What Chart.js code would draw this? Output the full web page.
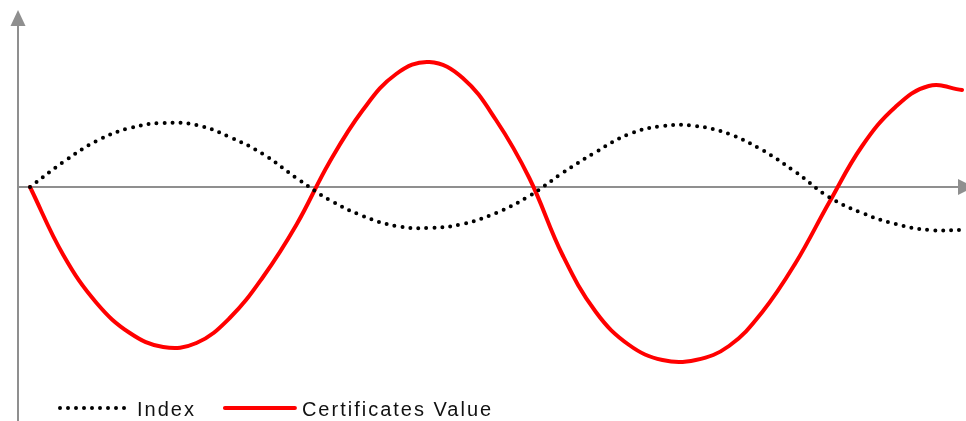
<!DOCTYPE html>
<html>
<head>
<meta charset="utf-8">
<script src="https://cdn.jsdelivr.net/npm/chart.js@4.4.1/dist/chart.umd.min.js"></script>
<style>
  body { margin: 0; background: #fff; }
  canvas { display: block; }
</style>
</head>
<body>
<canvas id="chart" width="966" height="421"></canvas>
<script>
// ==================== DATA ====================
const periods = ['', '', '', '', '', '', '', '', '', '', '', '', '', '', '',
                 '', '', '', '', '', '', '', '', '', '', '', '', '', ''];

const indexValues = [0, 25, 46, 59, 64, 62, 50, 33, 9, -13, -29, -39, -41, -37, -26,
                     -9, 14, 35, 53, 61, 61, 53, 37, 15, -10, -26, -37, -43, -43];

const certificateValues = [0, -68, -116, -146, -160, -156, -131, -90, -38, 25, 77, 113, 125, 109, 67,
                           9, -68, -125, -158, -173, -173, -159, -125, -76, -16, 41, 80, 101, 97];

const seriesLabels = ['Index', 'Certificates Value'];

const AXIS_COLOR = '#8f8f8f';

// axes with arrow heads, drawn from the chart area
const arrowAxes = {
  id: 'arrowAxes',
  beforeDatasetsDraw(chart) {
    const { ctx, chartArea, scales } = chart;
    const x0 = chartArea.left - 12;
    const y0 = scales.y.getPixelForValue(0);
    const right = chart.width;
    ctx.save();
    ctx.strokeStyle = AXIS_COLOR;
    ctx.fillStyle = AXIS_COLOR;
    ctx.lineWidth = 2;

    // y axis
    ctx.beginPath();
    ctx.moveTo(x0, chart.height);
    ctx.lineTo(x0, 24);
    ctx.stroke();
    ctx.beginPath();
    ctx.moveTo(x0, 10);
    ctx.lineTo(x0 - 7.5, 26);
    ctx.lineTo(x0 + 7.5, 26);
    ctx.closePath();
    ctx.fill();

    // x axis
    ctx.beginPath();
    ctx.moveTo(x0, y0);
    ctx.lineTo(right - 8, y0);
    ctx.stroke();
    ctx.beginPath();
    ctx.moveTo(right + 8, y0);
    ctx.lineTo(right - 8, y0 - 8);
    ctx.lineTo(right - 8, y0 + 8);
    ctx.closePath();
    ctx.fill();
    ctx.restore();
  }
};

// legend under the plot, built from the datasets
const lineLegend = {
  id: 'lineLegend',
  afterDraw(chart) {
    const { ctx, chartArea } = chart;
    const y = chart.height - 13;
    let x = chartArea.left + 30;
    ctx.save();
    ctx.font = '20px "Liberation Sans", Arial, sans-serif';
    ctx.letterSpacing = '2px';
    ctx.textBaseline = 'middle';
    chart.data.datasets.forEach(ds => {
      ctx.beginPath();
      ctx.strokeStyle = ds.borderColor;
      ctx.lineWidth = ds.borderWidth;
      ctx.lineCap = ds.borderCapStyle || 'butt';
      ctx.setLineDash(ds.borderDash || []);
      ctx.moveTo(x, y);
      ctx.lineTo(x + 70, y);
      ctx.stroke();
      ctx.setLineDash([]);
      ctx.fillStyle = '#111111';
      ctx.fillText(ds.label, x + 77, y + 2);
      x += 77 + ctx.measureText(ds.label).width + 29;
    });
    ctx.restore();
  }
};

new Chart(document.getElementById('chart'), {
  type: 'line',
  data: {
    labels: periods,
    datasets: [{
      label: seriesLabels[0],
      data: indexValues,
      borderColor: '#000000',
      borderWidth: 4,
      borderDash: [0, 8],
      borderCapStyle: 'round',
      pointRadius: 0,
      tension: 0.4,
      fill: false
    }, {
      label: seriesLabels[1],
      data: certificateValues,
      borderColor: '#ff0000',
      borderWidth: 4,
      borderCapStyle: 'round',
      pointRadius: 0,
      tension: 0.4,
      fill: false
    }]
  },
  options: {
    responsive: false,
    animation: false,
    layout: { padding: { left: 30, right: 4, top: 40, bottom: 41 } },
    plugins: {
      legend: { display: false },
      tooltip: { enabled: false }
    },
    scales: {
      x: { display: false, offset: false },
      y: { display: false, min: -193, max: 147 }
    }
  },
  plugins: [arrowAxes, lineLegend]
});
</script>
</body>
</html>
